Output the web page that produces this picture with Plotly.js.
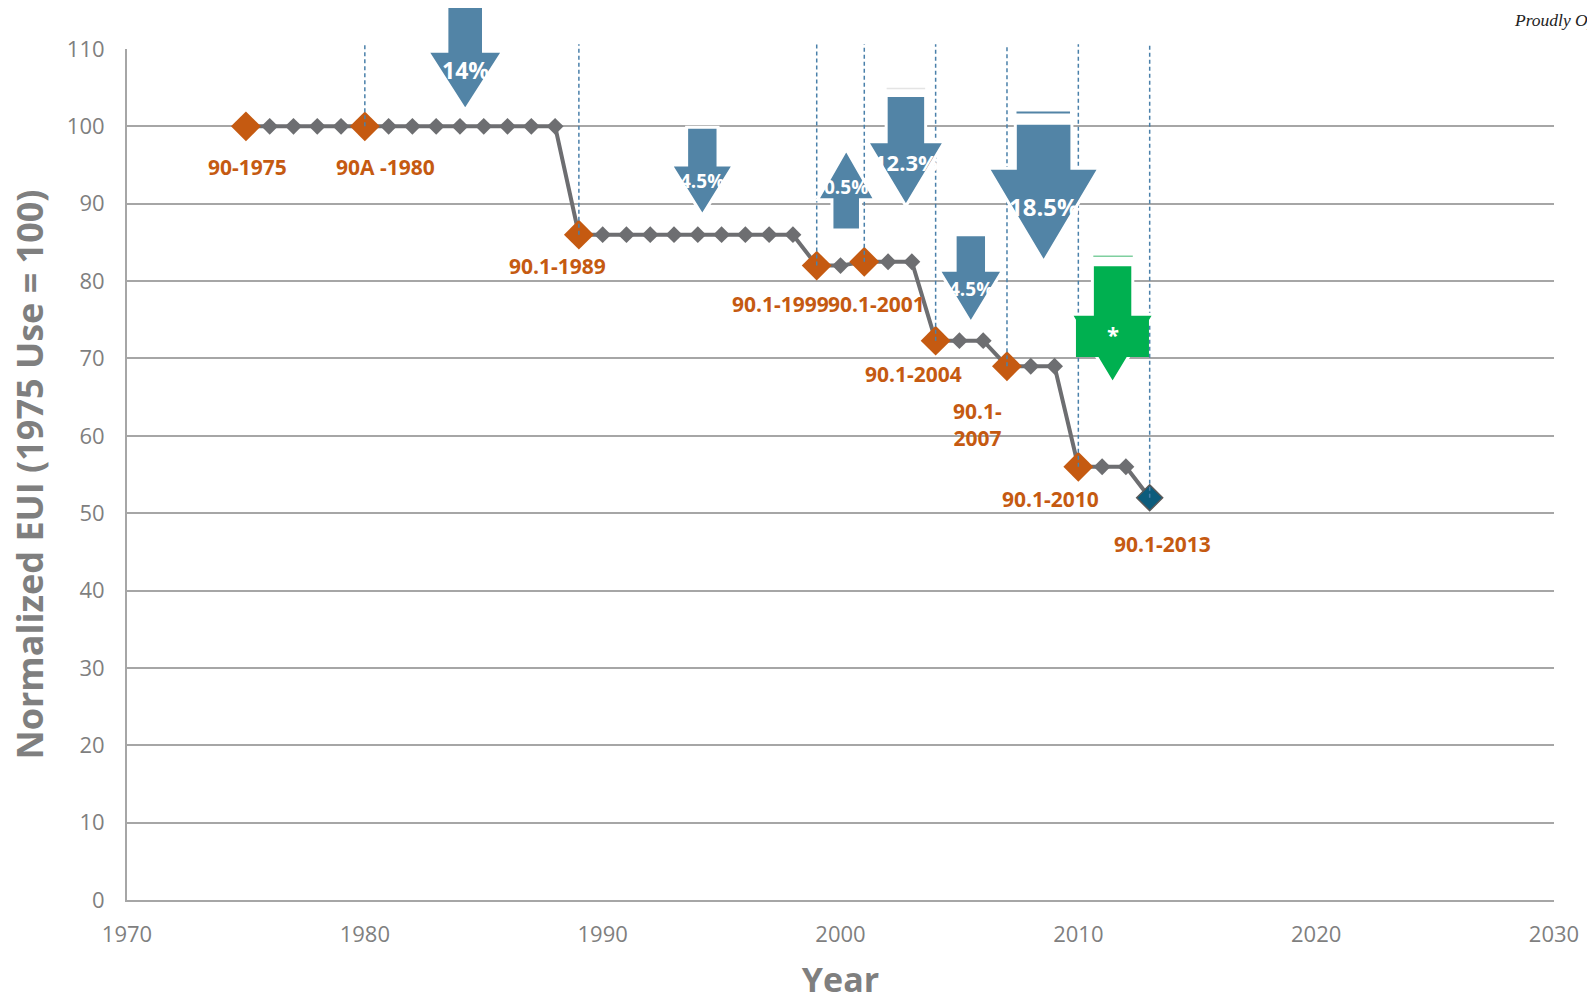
<!DOCTYPE html>
<html>
<head>
<meta charset="utf-8">
<script src="https://cdn.plot.ly/plotly-3.0.1.min.js"></script>
<style>
  html, body { margin: 0; padding: 0; background: #ffffff; overflow: hidden; }
  #chart { width: 1587px; height: 1002px; }
</style>
</head>
<body>
<div id="chart"></div>
<script>
// ---- data ----
const years = [1975,1976,1977,1978,1979,1980,1981,1982,1983,1984,1985,1986,1987,1988,
               1989,1990,1991,1992,1993,1994,1995,1996,1997,1998,
               1999,2000,2001,2002,2003,
               2004,2005,2006,
               2007,2008,2009,
               2010,2011,2012,
               2013];
const eui = [100,100,100,100,100,100,100,100,100,100,100,100,100,100,
             86,86,86,86,86,86,86,86,86,86,
             82,82,82.5,82.5,82.5,
             72.3,72.3,72.3,
             69,69,69,
             56,56,56,
             52];
const standardYears = [1975,1980,1989,1999,2001,2004,2007,2010,2013];
const standardLabels = ["90-1975","90A -1980","90.1-1989","90.1-1999","90.1-2001","90.1-2004","90.1-<br>2007","90.1-2010","90.1-2013"];
const savingsLabels = ["14%","4.5%","0.5%","12.3%","4.5%","18.5%","*"];

// ---- helpers ----
const X0 = 1970, X1 = 2030, Y0 = 0, Y1 = 110;
const px = v => (v - X0) / (X1 - X0);
const py = v => (v - Y0) / (Y1 - Y0);
const valueAt = yr => eui[years.indexOf(yr)];

const ORANGE = '#C55A11';
const GREY = '#6D6E71';
const BLUE = '#5284A6';
const GREEN = '#00B050';
const DASH = '#4A80AA';

// label placements (year position, value position) for each standard
const labelPos = [
  [1975.07, 94.8], [1980.86, 94.7], [1988.1, 82.0], [1997.47, 77.0], [2001.52, 77.0],
  [2003.09, 68.0], [2005.78, 61.5], [2008.84, 51.8], [2013.53, 46.0]
];

// arrow geometry: cx, shaft half width, head half width, start, head base, tip
const arrowGeom = [
  {cx:1984.22, sw:0.77, hw:1.58, start:115.5, base:109.7, tip:102.1, ty:107.3, fs:23, color:BLUE},
  {cx:1994.19, sw:0.66, hw:1.31, start:99.9,  base:95.0,  tip:88.5,  ty:92.9,  fs:19, color:BLUE},
  {cx:2000.24, sw:0.60, hw:1.21, start:86.6,  base:90.5,  tip:97.0,  ty:92.2,  fs:19, color:BLUE},
  {cx:2002.75, sw:0.83, hw:1.62, start:104.0, base:98.0,  tip:89.7,  ty:95.4,  fs:22, color:BLUE},
  {cx:2005.48, sw:0.66, hw:1.34, start:86.0,  base:81.4,  tip:74.6,  ty:79.0,  fs:19, color:BLUE},
  {cx:2008.54, sw:1.19, hw:2.34, start:100.4, base:94.6,  tip:82.5,  ty:89.6,  fs:24, color:BLUE},
  {cx:2011.44, sw:0.85, hw:1.75, start:82.1,  base:75.7,  tip:66.8,  ty:73.2,  fs:22, color:GREEN}
];

function arrowPath(g) {
  const pts = [
    [g.cx - g.sw, g.start], [g.cx + g.sw, g.start], [g.cx + g.sw, g.base],
    [g.cx + g.hw, g.base], [g.cx, g.tip], [g.cx - g.hw, g.base], [g.cx - g.sw, g.base]
  ];
  return 'M' + pts.map(p => px(p[0]).toFixed(5) + ',' + py(p[1]).toFixed(5)).join(' L') + ' Z';
}

const shapes = [];
// dashed verticals
standardYears.slice(1).forEach(yr => {
  shapes.push({type:'line', xref:'paper', yref:'paper', x0:px(yr), x1:px(yr), y0:py(valueAt(yr)), y1:py(110.6),
               line:{color:DASH, width:1.5, dash:'4px,3px'}, layer:'above'});
});
// arrows
arrowGeom.forEach(g => {
  shapes.push({type:'path', xref:'paper', yref:'paper', path:arrowPath(g), fillcolor:g.color,
               line:{color:'#ffffff', width:3}, layer:'above'});
});
// green arrow overlay rectangle
shapes.push({type:'rect', xref:'paper', yref:'paper', x0:px(2009.9), x1:px(2012.97), y0:py(70.2), y1:py(75.5),
             fillcolor:GREEN, line:{width:0}, layer:'above'});
// thin lines above arrows
shapes.push({type:'line', xref:'paper', yref:'paper', x0:px(2007.40), x1:px(2009.65), y0:py(101.8), y1:py(101.8),
             line:{color:BLUE, width:2}, layer:'above'});
shapes.push({type:'line', xref:'paper', yref:'paper', x0:px(2010.63), x1:px(2012.29), y0:py(83.2), y1:py(83.2),
             line:{color:'#7FCF9F', width:1.5}, layer:'above'});
shapes.push({type:'line', xref:'paper', yref:'paper', x0:px(2001.94), x1:px(2003.56), y0:py(104.9), y1:py(104.9),
             line:{color:'#E4E4E4', width:1.5}, layer:'above'});

const annotations = [];
standardLabels.forEach((t, i) => {
  annotations.push({x:labelPos[i][0], y:labelPos[i][1], xref:'x', yref:'y', text:'<b>' + t + '</b>', showarrow:false,
                    font:{family:'Open Sans, sans-serif', size:21, color:ORANGE}, xanchor:'center', yanchor:'middle'});
});
savingsLabels.forEach((t, i) => {
  const g = arrowGeom[i];
  annotations.push({x:g.cx, y:g.ty, xref:'x', yref:'y', text:'<b>' + t + '</b>', showarrow:false,
                    font:{family:'Open Sans, sans-serif', size:g.fs, color:'#ffffff'}, xanchor:'center', yanchor:'middle'});
});
annotations.push({x:0.9705, y:1.0336, xref:'paper', yref:'paper', text:'<i>Proudly Operated by Battelle Since 1965</i>',
                  showarrow:false, xanchor:'left', yanchor:'middle',
                  font:{family:'Liberation Serif, serif', size:17.5, color:'#222222'}});

const traces = [
  {x: years, y: eui, type:'scatter', mode:'lines+markers',
   line:{color:GREY, width:4},
   marker:{symbol:'diamond', size:13, color:GREY}, hoverinfo:'x+y', showlegend:false},
  {x: standardYears.slice(0, -1), y: standardYears.slice(0, -1).map(valueAt), type:'scatter', mode:'markers',
   marker:{symbol:'diamond', size:23, color:ORANGE}, showlegend:false},
  {x: standardYears.slice(-1), y: standardYears.slice(-1).map(valueAt), type:'scatter', mode:'markers',
   marker:{symbol:'diamond', size:20, color:'#0D5C7C', line:{color:'#595959', width:1.5}}, showlegend:false}
];

const axisFont = {family:'Open Sans, sans-serif', size:22, color:'#7F7F7F'};
const layout = {
  width:1587, height:1002,
  margin:{l:127, r:33, t:49, b:102},
  paper_bgcolor:'#ffffff', plot_bgcolor:'#ffffff',
  showlegend:false,
  xaxis:{range:[X0, X1], dtick:10, tick0:1970, showgrid:false, zeroline:false, showline:true,
         linecolor:'#A6A6A6', linewidth:2, ticks:'', tickfont:axisFont, ticklabelstandoff:14,
         title:{text:'<b>Year</b>', font:{family:'Open Sans, sans-serif', size:34, color:'#7F7F7F'}, standoff:29}},
  yaxis:{range:[Y0, Y1], dtick:10, tick0:0, showgrid:true, gridcolor:'#A6A6A6', gridwidth:2, zeroline:false,
         showline:true, linecolor:'#A6A6A6', linewidth:2, ticks:'', tickfont:axisFont, ticklabelstandoff:16,
         title:{text:'<b>Normalized EUI (1975 Use = 100)</b>', font:{family:'Open Sans, sans-serif', size:36, color:'#7F7F7F'}, standoff:12}},
  shapes: shapes,
  annotations: annotations
};

Plotly.newPlot('chart', traces, layout, {displayModeBar:false, staticPlot:true});
</script>
</body>
</html>
